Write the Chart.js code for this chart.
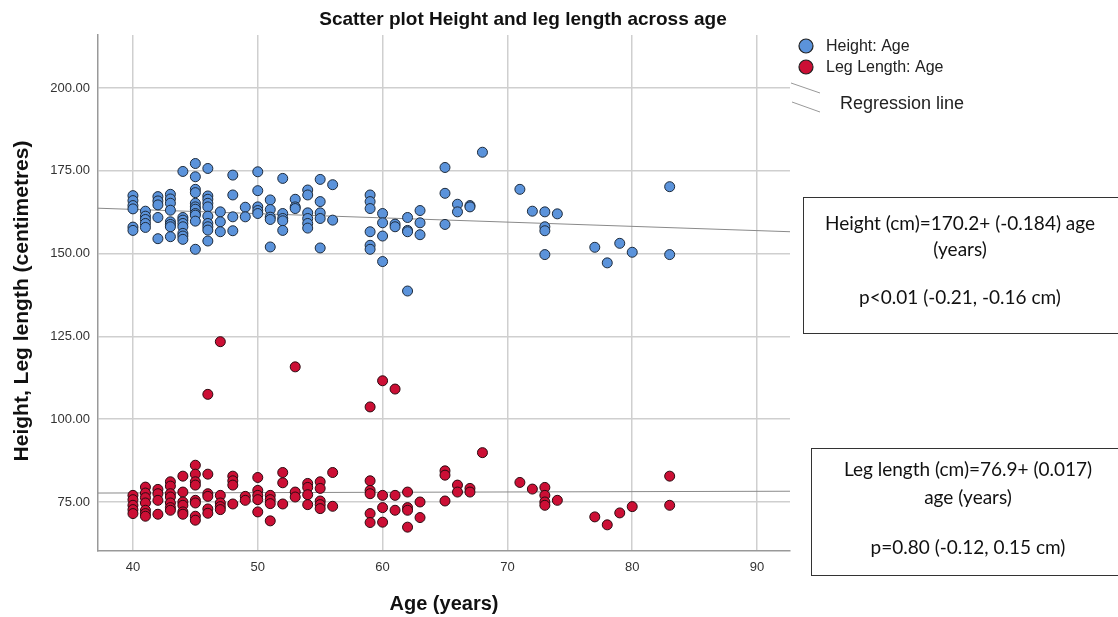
<!DOCTYPE html>
<html>
<head>
<meta charset="utf-8">
<script src="https://cdn.jsdelivr.net/npm/chart.js@4.4.1/dist/chart.umd.min.js"></script>
<style>
	html, body { margin: 0; padding: 0; background: #fff; }
	canvas { display: block; }
</style>
</head>
<body>
<canvas id="chart" width="1118" height="617"></canvas>
<script>
// values
const heightAges = [
	40, 40, 40, 40, 40, 40,
	41, 41, 41, 41, 41,
	42, 42, 42, 42, 42,
	43, 43, 43, 43, 43, 43, 43, 43,
	44, 44, 44, 44, 44, 44, 44, 44,
	45, 45, 45, 45, 45, 45, 45, 45, 45, 45, 45,
	46, 46, 46, 46, 46, 46, 46, 46, 46, 46,
	47, 47, 47,
	48, 48, 48, 48,
	49, 49,
	50, 50, 50, 50, 50,
	51, 51, 51, 51, 51,
	52, 52, 52, 52, 52,
	53, 53, 53,
	54, 54, 54, 54, 54, 54,
	55, 55, 55, 55, 55,
	56, 56,
	59, 59, 59, 59, 59, 59,
	60, 60, 60, 60,
	61, 61,
	62, 62, 62, 62,
	63, 63, 63,
	65, 65, 65,
	66, 66,
	67, 67,
	68,
	71,
	72,
	73, 73, 73, 73,
	74,
	77,
	78,
	79,
	80,
	83, 83,
];
const heightCm = [
	167.5, 166, 164.5, 163.5, 158, 157,
	162.8, 161.3, 160.3, 159.1, 157.9,
	167.2, 165.9, 164.7, 160.9, 154.5,
	167.9, 166.5, 165.2, 163.1, 159.6, 158.8, 158.1, 155.1,
	174.8, 160.9, 160.1, 159.1, 158.1, 156.1, 155.3, 154.3,
	177.2, 173.2, 169.4, 168.4, 165.2, 164.1, 163.4, 162.1, 161.6, 159.8, 151.3,
	175.7, 167.4, 166.4, 165.2, 164.1, 161.3, 159.1, 158.1, 157.1, 153.8,
	162.6, 159.6, 156.6,
	173.7, 167.7, 161.1, 156.9,
	164.0, 161.1,
	174.7, 169.0, 164.1, 163.0, 162.1,
	166.2, 163.3, 161.0, 160.3, 152.0,
	172.7, 162.1, 160.6, 159.9, 157.0,
	166.4, 164.1, 163.6,
	169.2, 167.7, 162.3, 160.6, 159.1, 157.7,
	172.4, 165.7, 162.3, 160.6, 151.7,
	170.8, 160.1,
	167.7, 165.7, 163.6, 156.6, 152.5, 151.3,
	162.1, 159.3, 155.3, 147.6,
	158.9, 158.1,
	160.9, 157.0, 156.6, 138.7,
	163.0, 159.3, 155.7,
	176.0, 168.2, 158.8,
	164.9, 162.6,
	164.5, 164.1,
	180.6,
	169.4,
	162.8,
	162.6, 158.1, 156.9, 149.7,
	162.0,
	151.9,
	147.2,
	153.1,
	150.4,
	170.2, 149.7,
];

const legAges = [
	40, 40, 40, 40, 40,
	41, 41, 41, 41, 41, 41, 41,
	42, 42, 42, 42,
	43, 43, 43, 43, 43, 43, 43,
	44, 44, 44, 44, 44, 44,
	45, 45, 45, 45, 45, 45, 45, 45,
	46, 46, 46, 46, 46, 46,
	47, 47, 47, 47, 47,
	48, 48, 48, 48,
	49, 49,
	50, 50, 50, 50, 50,
	51, 51, 51, 51,
	52, 52, 52,
	53, 53, 53,
	54, 54, 54, 54,
	55, 55, 55, 55, 55,
	56, 56,
	59, 59, 59, 59, 59, 59,
	60, 60, 60, 60,
	61, 61, 61,
	62, 62, 62, 62,
	63, 63,
	65, 65, 65,
	66, 66,
	67, 67,
	68,
	71,
	72,
	73, 73, 73, 73,
	74,
	77,
	78,
	79,
	80,
	83, 83,
];
const legCm = [
	77.0, 75.7, 74.0, 72.7, 71.5,
	79.5, 77.7, 76.3, 74.7, 72.5, 71.5, 70.7,
	78.8, 77.5, 75.5, 71.3,
	81.1, 79.8, 77.5, 76.5, 74.7, 73.3, 72.5,
	82.8, 78.0, 75.0, 74.0, 72.0, 71.3,
	86.1, 83.4, 81.1, 80.1, 75.5, 74.7, 70.7, 69.5,
	107.5, 83.4, 77.5, 76.7, 72.9, 71.6,
	123.4, 77.0, 74.7, 73.6, 72.7,
	82.8, 81.4, 80.1, 74.4,
	76.7, 75.5,
	82.4, 78.5, 77.0, 75.7, 72.0,
	77.0, 75.7, 74.5, 69.3,
	83.9, 80.8, 74.4,
	115.8, 78.0, 76.5,
	80.6, 79.4, 77.2, 74.2,
	81.1, 79.1, 75.3, 74.2, 73.0,
	83.9, 73.7,
	103.7, 81.4, 78.5, 77.5, 71.5, 68.8,
	111.6, 77.0, 73.3, 68.9,
	109.1, 77.0, 72.5,
	78.0, 73.3, 72.5, 67.4,
	75.0, 70.3,
	84.4, 83.1, 75.3,
	80.1, 78.0,
	79.1, 78.0,
	89.9,
	80.9,
	78.9,
	79.4, 77.0, 75.0, 74.0,
	75.5,
	70.5,
	68.1,
	71.7,
	73.6,
	82.8, 74.0,
];

// fitted lines as drawn (ends at the axis limits)
const heightFitAges = [37.2, 92.64];
const heightFitCm = [163.7, 156.6];
const legFitAges = [37.2, 92.64];
const legFitCm = [77.7, 78.25];

const xTicks = [40, 50, 60, 70, 80, 90];
const yTicks = [75, 100, 125, 150, 175, 200];

const legendLabels = [`Height: Age`, `Leg Length: Age`, `Regression line`];
const heightBoxLines = [`Height (cm)=170.2+ (-0.184) age`, `(years)`, `p<0.01 (-0.21, -0.16 cm)`];
const legBoxLines = [`Leg length (cm)=76.9+ (0.017)`, `age (years)`, `p=0.80 (-0.12, 0.15 cm)`];

const BLUE = `#5b93db`;
const RED = `#cc0f35`;
const GRID = `#cfcfcf`;
const SANS = `"Liberation Sans", Arial, sans-serif`;
const BOXFONT = `Lato, "Open Sans", sans-serif`;

const toPoints = (xs, ys) => xs.map((x, i) => ({ x, y: ys[i] }));

const annotations = {
	id: `annotations`,
	afterDraw(chart) {
		const ctx = chart.ctx;
		ctx.save();
		ctx.fillStyle = `#111`;
		ctx.textBaseline = `middle`;

		// title
		ctx.font = `bold 19px ${SANS}`;
		ctx.textAlign = `center`;
		ctx.fillText(`Scatter plot Height and leg length across age`, 523, 20);

		// axis titles
		ctx.font = `bold 20px ${SANS}`;
		ctx.fillText(`Age (years)`, 444, 604);
		ctx.save();
		ctx.translate(22, 301);
		ctx.rotate(-Math.PI / 2);
		ctx.font = `bold 21px ${SANS}`;
		ctx.fillText(`Height, Leg length (centimetres)`, 0, 0);
		ctx.restore();

		// legend
		ctx.font = `16px ${SANS}`;
		ctx.textAlign = `left`;
		ctx.fillStyle = `#222`;
		[[BLUE, 46], [RED, 67]].forEach(([c, y], i) => {
			ctx.beginPath();
			ctx.arc(806, y, 7, 0, Math.PI * 2);
			ctx.fillStyle = c;
			ctx.fill();
			ctx.lineWidth = 1.2;
			ctx.strokeStyle = `#222`;
			ctx.stroke();
			ctx.fillStyle = `#222`;
			ctx.fillText(legendLabels[i], 826, y + 1);
		});
		ctx.strokeStyle = `#999`;
		ctx.lineWidth = 1;
		ctx.beginPath();
		ctx.moveTo(791, 83); ctx.lineTo(820, 93);
		ctx.moveTo(792, 102); ctx.lineTo(820, 112);
		ctx.stroke();
		ctx.font = `18px ${SANS}`;
		ctx.fillText(legendLabels[2], 840, 104);

		// equation boxes
		ctx.strokeStyle = `#333`;
		ctx.lineWidth = 1;
		ctx.strokeRect(803.5, 197.5, 330, 136);
		ctx.strokeRect(811.5, 448.5, 330, 127);
		ctx.font = `19px ${BOXFONT}`;
		ctx.textAlign = `center`;
		ctx.fillStyle = `#111`;
		[224, 250, 298].forEach((y, i) => ctx.fillText(heightBoxLines[i], 960, y));
		[470, 498, 548].forEach((y, i) => ctx.fillText(legBoxLines[i], 968, y));
		ctx.restore();
	},
};

new Chart(document.getElementById(`chart`), {
	type: `scatter`,
	data: {
		datasets: [
			{
				label: legendLabels[0],
				data: toPoints(heightAges, heightCm),
				backgroundColor: BLUE,
				borderColor: `#1d2a3a`,
				borderWidth: 1,
				pointRadius: 5,
				order: 1,
			},
			{
				label: legendLabels[1],
				data: toPoints(legAges, legCm),
				backgroundColor: RED,
				borderColor: `#2a0a10`,
				borderWidth: 1,
				pointRadius: 5,
				order: 1,
			},
			{
				type: `line`,
				data: toPoints(heightFitAges, heightFitCm),
				borderColor: `#8a8a8a`,
				borderWidth: 1,
				pointRadius: 0,
				order: 3,
			},
			{
				type: `line`,
				data: toPoints(legFitAges, legFitCm),
				borderColor: `#8a8a8a`,
				borderWidth: 1,
				pointRadius: 0,
				order: 3,
			},
		],
	},
	options: {
		responsive: false,
		animation: false,
		devicePixelRatio: 1,
		layout: { padding: { top: 35, right: 328, left: 0, bottom: 0 } },
		plugins: {
			legend: { display: false },
			title: { display: false },
			tooltip: { enabled: false },
		},
		scales: {
			x: {
				type: `linear`,
				min: 37.2,
				max: 92.64,
				afterFit: (s) => { s.height = 66; },
				afterBuildTicks: (s) => { s.ticks = xTicks.map((value) => ({ value })); },
				grid: { color: GRID, lineWidth: 1.5, drawTicks: false },
				border: { color: `#999`, width: 1.5 },
				ticks: {
					padding: 9,
					color: `#333`,
					font: { family: SANS, size: 13 },
				},
			},
			y: {
				type: `linear`,
				min: 60.2,
				max: 216,
				afterFit: (s) => { s.width = 98; },
				afterBuildTicks: (s) => { s.ticks = yTicks.map((value) => ({ value })); },
				grid: { color: GRID, lineWidth: 1.5, drawTicks: false },
				border: { color: `#999`, width: 1.5 },
				ticks: {
					padding: 8,
					color: `#333`,
					font: { family: SANS, size: 13 },
					callback: (v) => v.toFixed(2),
				},
			},
		},
	},
	plugins: [annotations],
});
</script>
</body>
</html>
